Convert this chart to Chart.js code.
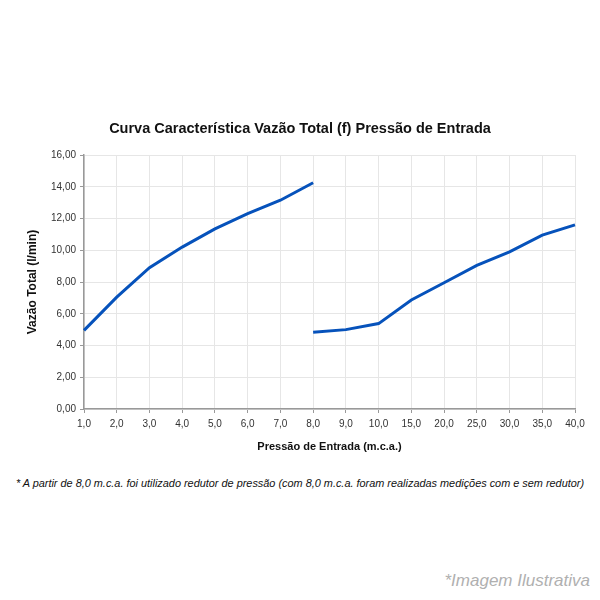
<!DOCTYPE html>
<html>
<head>
<meta charset="utf-8">
<script src="https://cdn.jsdelivr.net/npm/chart.js@4"></script>
<style>
  html, body { margin: 0; padding: 0; background: #fff; }
  body { width: 600px; height: 600px; position: relative; overflow: hidden; font-family: "Liberation Sans", Arial, sans-serif; }
  #wrap { position: absolute; left: 0; top: 0; width: 600px; height: 470px; }
  #nota { position: absolute; left: 0; top: 477px; width: 600px; text-align: center; font-style: italic; font-size: 10.9px; color: #111; }
  #ilustr { position: absolute; right: 10px; top: 571px; font-style: italic; font-size: 17px; color: #b0b0b0; font-family: "Liberation Sans Narrow", "Liberation Sans", Arial, sans-serif; }
</style>
</head>
<body>
<div id="wrap"><canvas id="curva"></canvas></div>
<div id="nota">* A partir de 8,0 m.c.a. foi utilizado redutor de pressão (com 8,0 m.c.a. foram realizadas medições com e sem redutor)</div>
<div id="ilustr">*Imagem Ilustrativa</div>
<script>
// pressão de entrada (m.c.a.)
const pressoes = [1, 2, 3, 4, 5, 6, 7, 8, 9, 10, 15, 20, 25, 30, 35, 40];
// vazão total (l/min) sem redutor, até 8,0 m.c.a.
const vazaoSemRedutor = [4.95, 7.05, 8.9, 10.2, 11.35, 12.3, 13.15, 14.25, null, null, null, null, null, null, null, null];
// vazão total (l/min) com redutor, a partir de 8,0 m.c.a.
const vazaoComRedutor = [null, null, null, null, null, null, null, 4.83, 5.0, 5.38, 6.87, 7.95, 9.05, 9.9, 10.95, 11.6];
const ticksY = [0, 2, 4, 6, 8, 10, 12, 14, 16];

const fonte = "'Liberation Sans', Arial, sans-serif";
const azul = '#0652bb';

const ctx = document.getElementById('curva').getContext('2d');
new Chart(ctx, {
    type: 'line',
    data: {
        labels: pressoes.map(p => p.toFixed(1).replace('.', ',')),
        datasets: [{
            label: 'Sem redutor',
            data: vazaoSemRedutor,
            borderColor: azul,
            borderWidth: 3,
            pointRadius: 0,
            tension: 0
        }, {
            label: 'Com redutor',
            data: vazaoComRedutor,
            borderColor: azul,
            borderWidth: 3,
            pointRadius: 0,
            tension: 0
        }]
    },
    options: {
        responsive: true,
        maintainAspectRatio: false,
        animation: false,
        layout: { padding: { top: 120, right: 25, left: 25, bottom: 0 } },
        plugins: {
            legend: { display: false },
            tooltip: { enabled: false },
            title: {
                display: true,
                text: 'Curva Característica Vazão Total (f) Pressão de Entrada',
                color: '#111',
                font: { family: fonte, size: 14.5, weight: 'bold' },
                padding: { top: 0, bottom: 17.6 }
            }
        },
        scales: {
            x: {
                offset: false,
                afterFit: s => { s.height = 61; },
                grid: { color: '#e6e6e6', tickColor: '#999', tickLength: 4, lineWidth: 1 },
                border: { color: '#999', width: 1.5 },
                ticks: { color: '#333', font: { family: fonte, size: 10 }, padding: 5, maxRotation: 0, autoSkip: false },
                title: {
                    display: true,
                    text: 'Pressão de Entrada (m.c.a.)',
                    color: '#111',
                    font: { family: fonte, size: 11, weight: 'bold' },
                    padding: { top: 0, bottom: 16 }
                }
            },
            y: {
                min: 0,
                max: 16,
                afterFit: s => { s.width = 59; },
                afterBuildTicks: s => { s.ticks = ticksY.map(v => ({ value: v })); },
                grid: { color: '#e6e6e6', tickColor: '#999', tickLength: 4, lineWidth: 1 },
                border: { color: '#999', width: 1.5 },
                ticks: {
                    color: '#333',
                    font: { family: fonte, size: 10 },
                    padding: 4,
                    callback: v => v.toFixed(2).replace('.', ',')
                },
                title: {
                    display: true,
                    text: 'Vazão Total (l/min)',
                    color: '#111',
                    font: { family: fonte, size: 12, weight: 'bold' },
                    padding: { top: 0, bottom: 0 }
                }
            }
        }
    }
});
</script>
</body>
</html>
